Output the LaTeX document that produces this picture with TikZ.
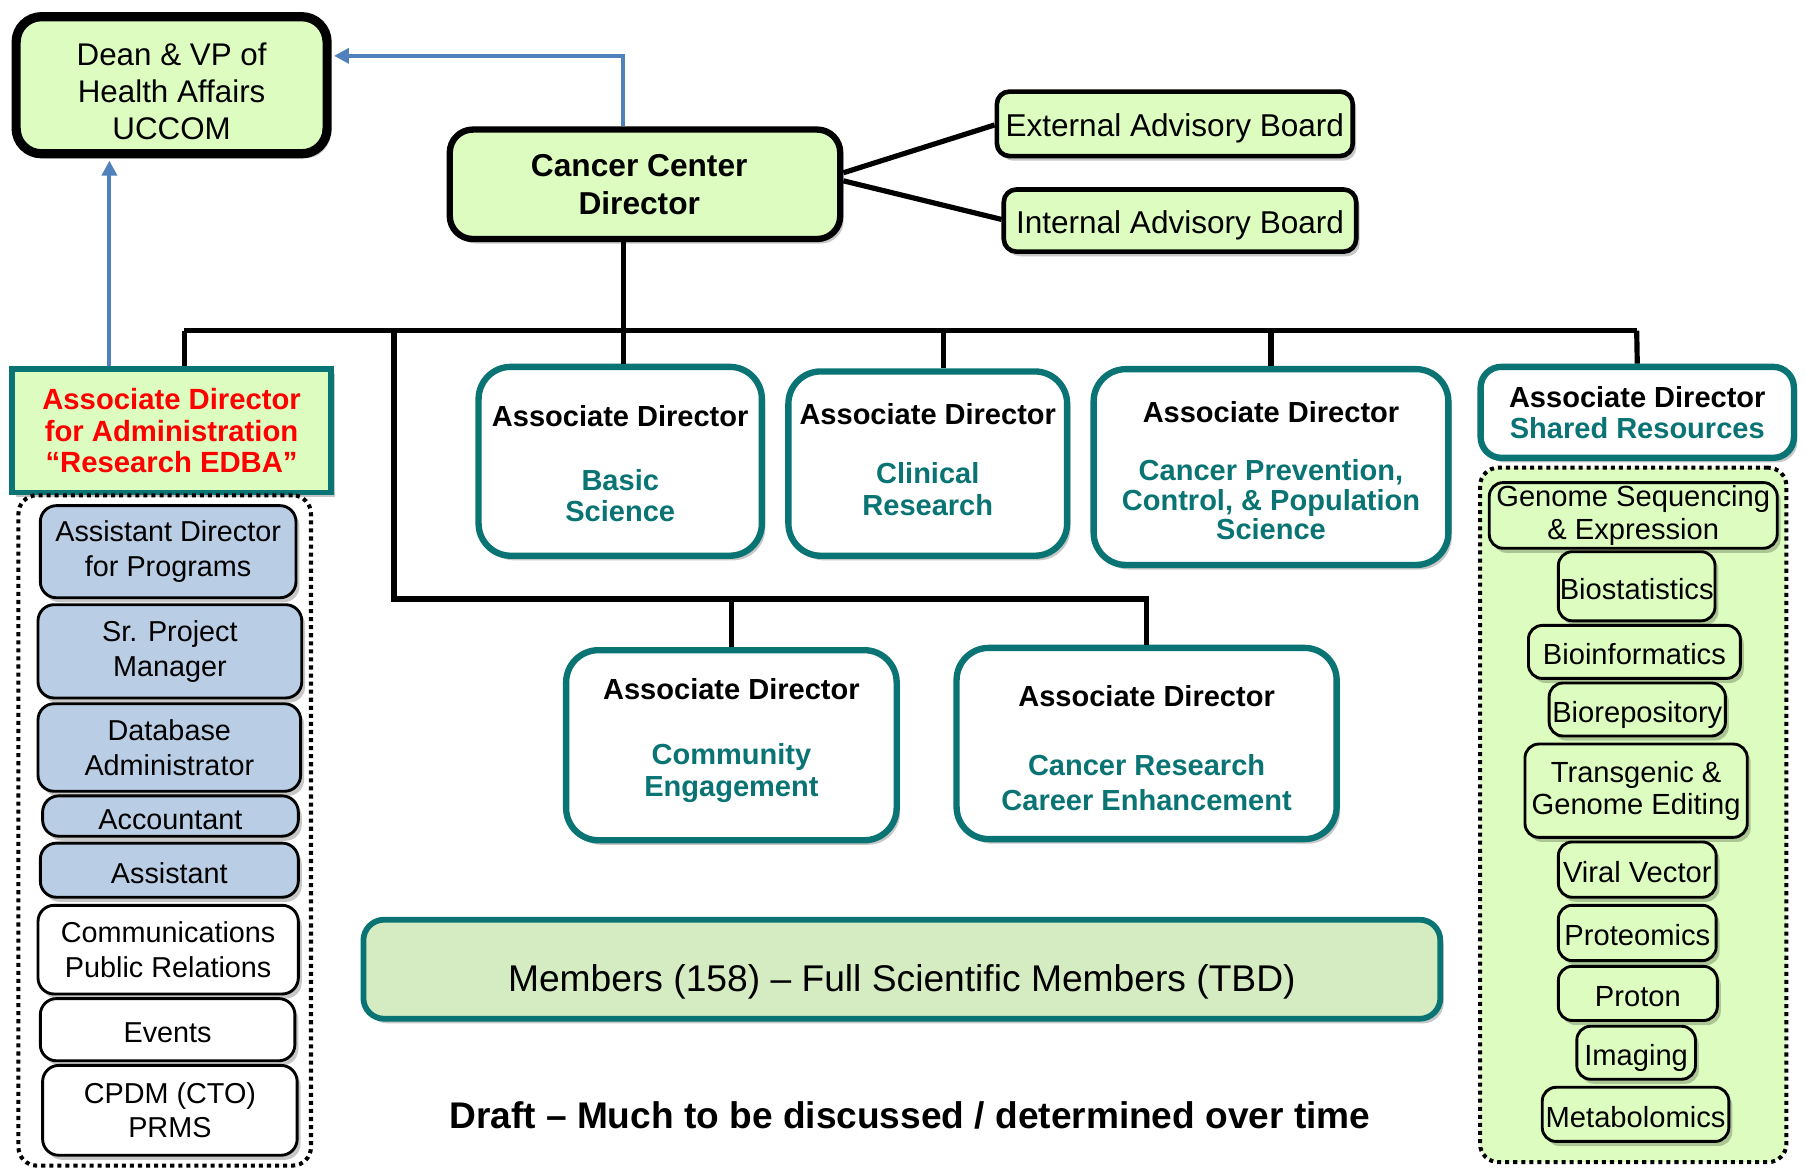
\documentclass[tikz,border=0pt]{standalone}
\usepackage{fontspec}
\setmainfont{Liberation Sans}
\usetikzlibrary{arrows.meta,shadows}
\definecolor{lgreen}{HTML}{DDFDC0}
\definecolor{adteal}{HTML}{0A7373}
\definecolor{blueitem}{HTML}{B9CDE5}
\definecolor{memfill}{HTML}{D5ECC2}
\definecolor{arrowblue}{HTML}{4F81BD}
\definecolor{adred}{HTML}{FF0000}
\newcommand\fs[2]{\fontsize{#1}{#2}\selectfont}
\newcommand\tl[1]{\textcolor{adteal}{#1}}
\newcommand\up[1]{\rule{0pt}{#1}}
\newcommand\dn[1]{\rule[-#1]{0pt}{0pt}}
\begin{document}
\begin{tikzpicture}[x=1pt,y=-1pt,
  shad/.style={drop shadow={shadow xshift=3pt,shadow yshift=-4pt,opacity=0.22,fill=black}},
  deanbox/.style={draw=black,line width=8pt,fill=lgreen,rounded corners=22pt,shad,align=center,inner sep=2pt,font=\fs{27.2}{32}},
  ccdbox/.style={draw=black,line width=5.5pt,fill=lgreen,rounded corners=20pt,shad,align=center,inner sep=2pt,font=\fs{27.5}{33}\bfseries},
  board/.style={draw=black,line width=4pt,fill=lgreen,rounded corners=11pt,shad,align=center,inner sep=2pt,font=\fs{27.4}{32},text height=22pt,text depth=0pt},
  adbox/.style={draw=adteal,line width=5.5pt,fill=white,rounded corners=28pt,shad,align=center,inner sep=2pt,font=\fs{25.2}{27}\bfseries},
  adminbox/.style={draw=adteal,line width=5pt,fill=lgreen,shad,align=center,inner sep=2pt,font=\fs{25.4}{27.5}\bfseries,text=adred},
  litem/.style={draw=black,line width=2.5pt,rounded corners=14pt,fill=blueitem,shad,align=center,inner sep=1pt,font=\fs{25}{30}},
  witem/.style={litem,fill=white},
  ritem/.style={draw=black,line width=2.5pt,rounded corners=12pt,fill=lgreen,shad,align=center,inner sep=1pt,font=\fs{25.3}{28}},
  oneline/.style={text height=22.5pt,text depth=0pt},
  container/.style={draw=black,line width=3.5pt,dash pattern=on 3.5pt off 3.5pt,rounded corners=16pt},
  memb/.style={draw=adteal,line width=5pt,fill=memfill,rounded corners=18pt,shad,align=center,font=\fs{32.3}{38},text height=38pt,text depth=0pt},
  conn/.style={draw=black,line width=4.5pt},
  barrow/.style={draw=arrowblue,line width=3.5pt,-{Triangle[length=13pt,width=13pt]}}
]
\useasboundingbox (0,0) rectangle (1568,1016);

% top level
\node[deanbox,minimum width=270pt,minimum height=119pt] (dean) at (149,74) {\up{30pt}Dean \& VP of\\Health Affairs\\UCCOM};
\node[ccdbox,minimum width=339pt,minimum height=95pt] (ccd) at (560,160) {\hspace*{-10pt}Cancer Center\\\hspace*{-10pt}Director};
\node[board,minimum width=309pt,minimum height=56pt] (ext) at (1020,107.5) {External Advisory Board};
\node[board,minimum width=306pt,minimum height=54pt] (int) at (1024.5,191.5) {Internal Advisory Board};

% associate directors
\node[adminbox,minimum width=277pt,minimum height=107pt] (admin) at (149,374) {Associate Director\\for Administration\\“Research EDBA”};
\node[adbox,minimum width=246pt,minimum height=164pt] (basic) at (538.5,400.5) {\up{22.5pt}Associate Director\\[29pt]\tl{Basic}\\\tl{Science}};
\node[adbox,minimum width=242pt,minimum height=160pt] (clin) at (805.5,402.5) {Associate Director\\[25pt]\tl{Clinical}\\\tl{Research}\dn{8pt}};
\node[adbox,minimum width=308pt,minimum height=170pt,font=\fs{25.2}{25.5}\bfseries] (cpc) at (1103.5,405.5) {\up{24.5pt}Associate Director\\[25pt]\tl{Cancer Prevention,}\\\tl{Control, \& Population}\\\tl{Science}};
\node[adbox,rounded corners=18pt,minimum width=272pt,minimum height=79pt] (shared) at (1421.5,358) {Associate Director\\\tl{Shared Resources}};
\node[adbox,minimum width=287pt,minimum height=165pt,font=\fs{25.2}{28}\bfseries] (comm) at (635,647) {Associate Director\\[28pt]\tl{Community}\\\tl{Engagement}\dn{13pt}};
\node[adbox,minimum width=330pt,minimum height=166pt,font=\fs{25.2}{30}\bfseries] (career) at (995.5,645.5) {\up{26.5pt}Associate Director\\[30pt]\tl{Cancer Research}\\\tl{Career Enhancement}};

% members and draft
\node[memb,minimum width=935pt,minimum height=86pt] (members) at (783,841.5) {Members (158) – Full Scientific Members (TBD)};
\node[font=\fs{32.2}{38}\bfseries,inner sep=0pt] (draft) at (790,968) {Draft – Much to be discussed / determined over time};

% left column items
\node[litem,minimum width=222pt,minimum height=80pt] (prog) at (146,479) {Assistant Director\\for Programs};
\node[litem,minimum width=229pt,minimum height=81pt] (spm) at (147.5,565.5) {Sr. Project\\Manager};
\node[litem,minimum width=228pt,minimum height=76pt] (dba) at (147,649) {Database\\Administrator};
\node[litem,oneline,minimum width=222pt,minimum height=35pt] (acct) at (148,708.5) {Accountant};
\node[litem,oneline,minimum width=224pt,minimum height=47pt] (asst) at (147,755.5) {Assistant};
\node[witem,minimum width=226pt,minimum height=77pt] (commpr) at (146,824.5) {Communications\\Public Relations};
\node[witem,oneline,minimum width=221pt,minimum height=54pt] (events) at (145.5,894) {Events};
\node[witem,minimum width=221pt,minimum height=78pt] (cpdm) at (147.5,964) {CPDM (CTO)\\PRMS};
\node[container,minimum width=254pt,minimum height=582pt] (leftbox) at (143,721) {};

% right column
\node[container,fill=lgreen,minimum width=266pt,minimum height=603pt] (rightbox) at (1418,707.5) {};
\node[ritem,minimum width=250pt,minimum height=57pt] (genome) at (1418,447.5) {Genome Sequencing\\\& Expression};
\node[ritem,oneline,minimum width=136pt,minimum height=60pt] (biostat) at (1421,509) {Biostatistics};
\node[ritem,oneline,minimum width=184pt,minimum height=46pt] (bioinf) at (1419,566) {Bioinformatics};
\node[ritem,oneline,minimum width=153pt,minimum height=46pt] (biorep) at (1421.5,616) {Biorepository};
\node[ritem,minimum width=193pt,minimum height=81pt] (trans) at (1420.5,686.5) {Transgenic \&\\Genome Editing};
\node[ritem,oneline,minimum width=137pt,minimum height=48pt] (viral) at (1421.5,755) {Viral Vector};
\node[ritem,oneline,minimum width=137pt,minimum height=48pt] (prot) at (1421.5,810) {Proteomics};
\node[ritem,oneline,minimum width=138pt,minimum height=47pt] (proton) at (1422,862.5) {Proton};
\node[ritem,oneline,minimum width=103pt,minimum height=46pt] (imag) at (1420.5,914) {Imaging};
\node[ritem,oneline,minimum width=162pt,minimum height=47pt] (metab) at (1420,967.5) {Metabolomics};

% connectors
\coordinate (cj) at (541,287);
\coordinate (bL) at (160,287);
\coordinate (bR) at (1421,287);
\coordinate (c2) at (819,287);
\coordinate (b2a) at (342,287);
\coordinate (b2b) at (342,520);
\coordinate (ax) at (95,0);

\draw[conn] (ccd.south -| cj) -- (cj);
\draw[conn] (bL) -- (bR);
\draw[conn] (bL) -- (bL |- admin.north);
\draw[conn] (cj) -- (cj |- basic.north);
\draw[conn] (c2) -- (c2 |- clin.north);
\draw[conn] (cpc.north |- bR) -- (cpc.north);
\draw[conn] (bR) -- (shared.north);
\draw[conn] (b2a) -- (b2b) -| (career.north);
\draw[conn] (comm.north |- b2b) -- (comm.north);
\draw[conn] ([yshift=10pt]ccd.east) -- ([yshift=-1pt]ext.west);
\draw[conn] ([yshift=3pt]ccd.east) -- ([yshift=1pt]int.west);

\draw[barrow] (ccd.north -| cj) |- ([yshift=25.5pt,xshift=2pt]dean.east);
\draw[barrow] (admin.north -| ax) -- ([yshift=-2pt]dean.south -| ax);
\end{tikzpicture}
\end{document}
